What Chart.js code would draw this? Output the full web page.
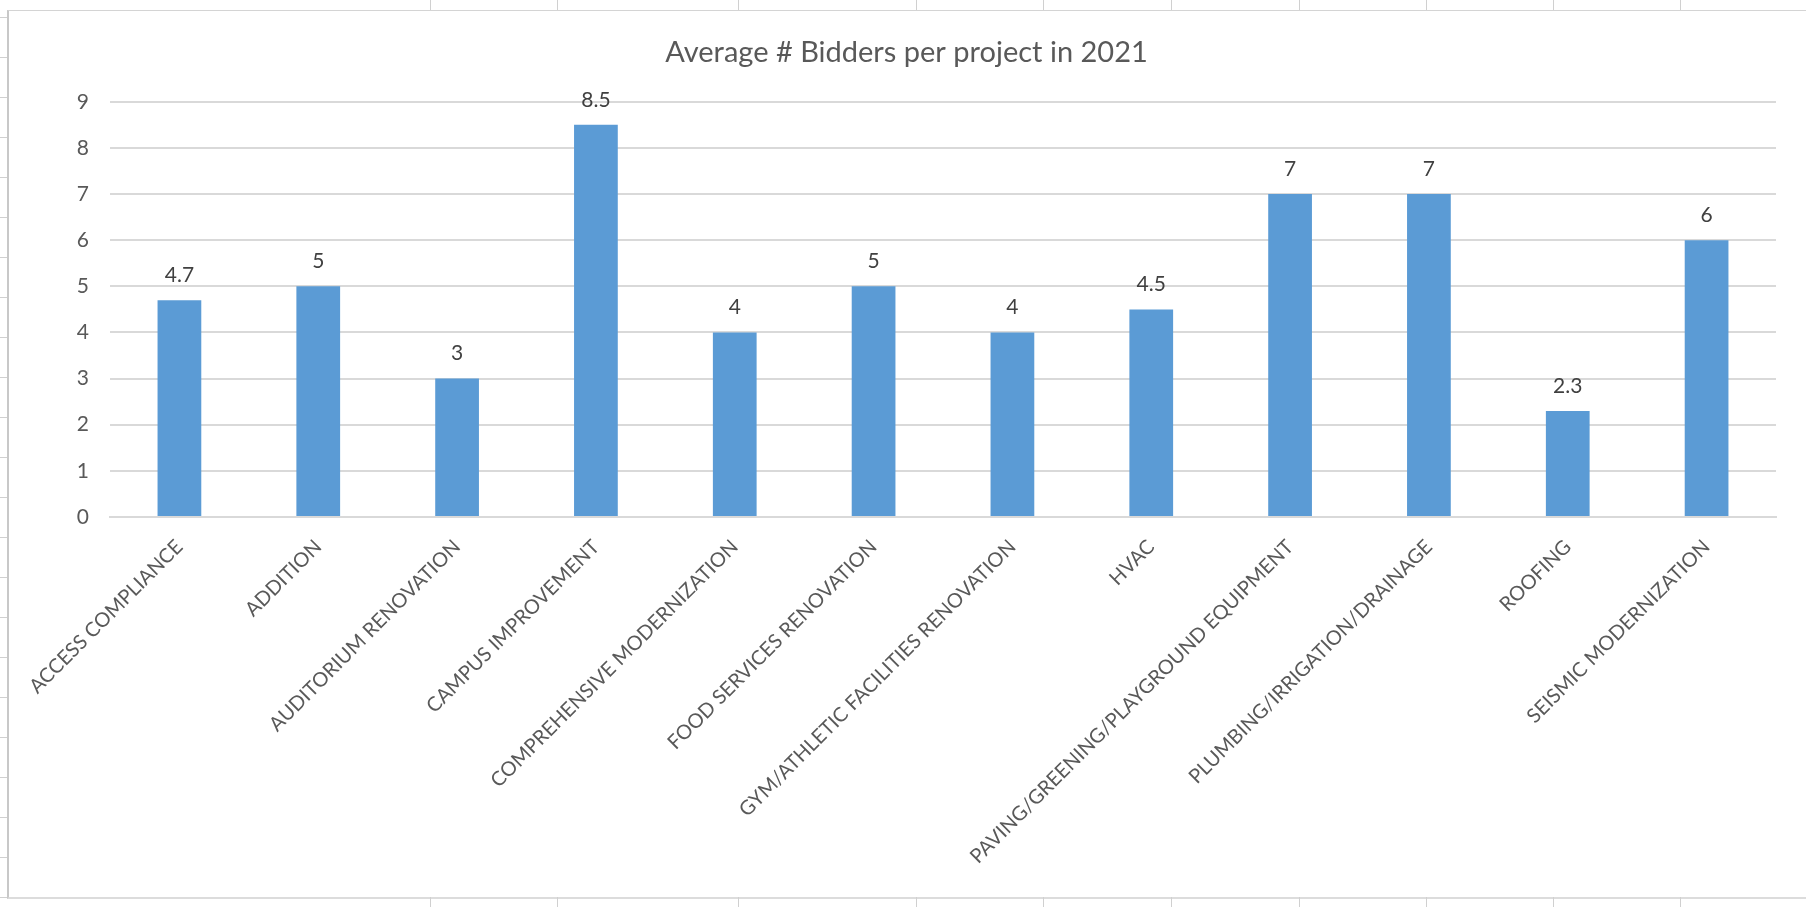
<!DOCTYPE html>
<html>
<head>
<meta charset="utf-8">
<script src="https://cdn.jsdelivr.net/npm/chart.js@4.4.0/dist/chart.umd.min.js"></script>
<style>
  html, body { margin: 0; padding: 0; background: #ffffff; }
  body { width: 1806px; height: 907px; position: relative; overflow: hidden; }
  #frame { position: absolute; left: 7px; top: 10px; width: 1797px; height: 886px;
           border-top: 1px solid #d4d4d4; border-bottom: 2px solid #dcdcdc;
           border-left: 2px solid #c8c8c8; border-right: 1px solid #d4d4d4; background: #fff; }
  #c { position: absolute; left: 9px; top: 11px; }
  .col { position: absolute; width: 1px; background: #d0d0d0; }
  .row { position: absolute; left: 0; width: 7px; height: 1px; background: #d0d0d0; }
</style>
</head>
<body>
<div id="frame"></div>
<canvas id="c" width="1795" height="885"></canvas>
<script>
// ---- data ----
const categories = [
  "ACCESS COMPLIANCE",
  "ADDITION",
  "AUDITORIUM RENOVATION",
  "CAMPUS IMPROVEMENT",
  "COMPREHENSIVE MODERNIZATION",
  "FOOD SERVICES RENOVATION",
  "GYM/ATHLETIC FACILITIES RENOVATION",
  "HVAC",
  "PAVING/GREENING/PLAYGROUND EQUIPMENT",
  "PLUMBING/IRRIGATION/DRAINAGE",
  "ROOFING",
  "SEISMIC MODERNIZATION"
];
const avgBidders = [4.7, 5, 3, 8.5, 4, 5, 4, 4.5, 7, 7, 2.3, 6];
const yTicks = [0, 1, 2, 3, 4, 5, 6, 7, 8, 9];
const chartTitle = "Average # Bidders per project in 2021";

// ---- spreadsheet backdrop (decoration only) ----
const colXs = [430, 557, 738, 916, 1043, 1171, 1299, 1426, 1553, 1680];
colXs.forEach(x => {
  const a = document.createElement('div'); a.className = 'col';
  a.style.left = x + 'px'; a.style.top = '0px'; a.style.height = '10px';
  document.body.appendChild(a);
  const b = document.createElement('div'); b.className = 'col';
  b.style.left = x + 'px'; b.style.top = '897px'; b.style.height = '10px';
  document.body.appendChild(b);
});
for (let y = 17; y < 907; y += 40) {
  const r = document.createElement('div'); r.className = 'row';
  r.style.top = y + 'px'; document.body.appendChild(r);
}

// ---- value labels plugin ----
const valueLabels = {
  id: 'valueLabels',
  afterDatasetsDraw(chart) {
    const ctx = chart.ctx;
    const meta = chart.getDatasetMeta(0);
    ctx.save();
    ctx.font = '21px Lato';
    ctx.fillStyle = '#404040';
    ctx.textAlign = 'center';
    ctx.textBaseline = 'middle';
    meta.data.forEach((bar, i) => {
      ctx.fillText(String(chart.data.datasets[0].data[i]), bar.x, bar.y - 25);
    });
    ctx.restore();
  }
};

new Chart(document.getElementById('c'), {
  type: 'bar',
  data: {
    labels: categories,
    datasets: [{
      data: avgBidders,
      backgroundColor: '#5b9bd5',
      borderWidth: 0,
      barPercentage: 0.315,
      categoryPercentage: 1.0
    }]
  },
  options: {
    responsive: false,
    devicePixelRatio: 1,
    animation: false,
    layout: { padding: { left: 28, right: 28, top: 0, bottom: 0 } },
    plugins: {
      legend: { display: false },
      tooltip: { enabled: false },
      title: {
        display: true,
        text: chartTitle,
        color: '#595959',
        font: { family: 'Lato', size: 29, weight: 'normal', lineHeight: 1.2 },
        padding: { top: 24, bottom: 32 }
      }
    },
    scales: {
      x: {
        grid: { display: false, drawTicks: false },
        border: { display: true, color: '#d9d9d9', width: 2 },
        ticks: {
          autoSkip: false,
          maxRotation: 45,
          minRotation: 45,
          padding: 18,
          color: '#595959',
          font: { family: 'Lato', size: 20 }
        },
        afterFit(scale) { scale.height = 379; scale.paddingLeft = 0; scale.paddingRight = 0; }
      },
      y: {
        min: 0,
        max: 9,
        afterBuildTicks(scale) { scale.ticks = yTicks.map(v => ({ value: v })); },
        grid: { color: '#d9d9d9', lineWidth: 2, drawTicks: false },
        border: { display: false },
        ticks: {
          padding: 21,
          color: '#595959',
          font: { family: 'Lato', size: 21 }
        },
        afterFit(scale) { scale.width = 73; }
      }
    }
  },
  plugins: [valueLabels]
});
</script>
</body>
</html>
